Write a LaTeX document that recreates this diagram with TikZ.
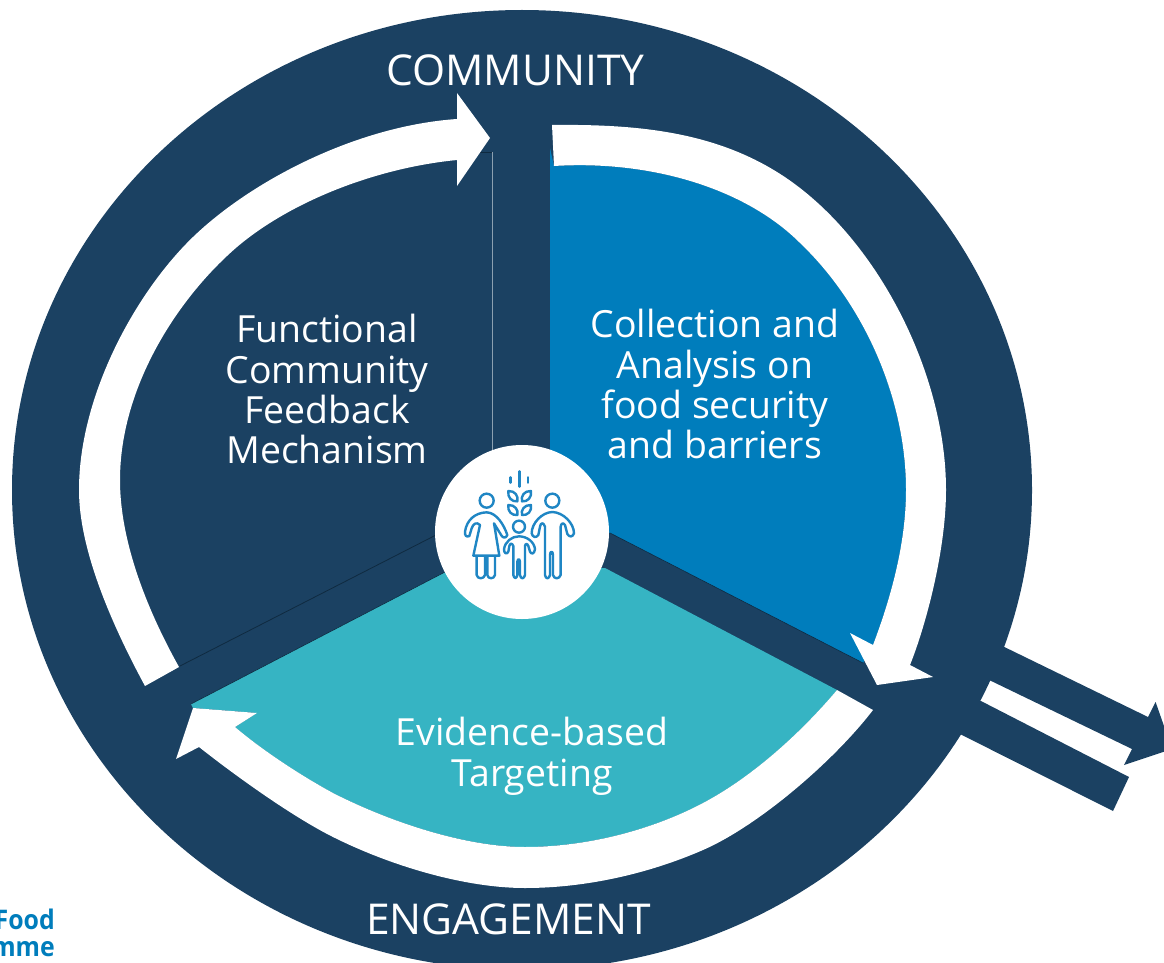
\documentclass[tikz,border=0pt]{standalone}
\usepackage{fontspec}
\setmainfont{Open Sans}
\definecolor{navy}{HTML}{1B4162}
\definecolor{wfpblue}{HTML}{007DBC}
\definecolor{wfpteal}{HTML}{36B4C3}
\definecolor{iconblue}{HTML}{1F86C4}
\definecolor{edgedark}{HTML}{0F2A40}
\definecolor{edgegrey}{HTML}{8CA0B0}
\tikzset{
  inlabel/.style={text=white,anchor=base,font=\fontsize{37.4}{40}\selectfont,inner sep=0pt},
  ringlabel/.style={text=white,anchor=base,font=\fontsize{42.5}{48}\selectfont,inner sep=0pt},
  logotext/.style={text=wfpblue,anchor=base east,font=\fontsize{27}{30}\selectfont\bfseries,inner sep=0pt},
  iconline/.style={draw=iconblue,line width=2.4pt,line join=round,line cap=round,fill=none},
  arrowfill/.style={fill=white,draw=none},
  bandfill/.style={fill=navy,draw=none}
}
\begin{document}
\begin{tikzpicture}[x=1pt,y=-1pt]
\useasboundingbox (0,0) rectangle (1164,963);
\begin{scope}
\clip (0,0) rectangle (1164,963);
% outgoing double band
\fill[bandfill] (990,640) -- (1148,717) -- (1155.6,702) -- (1172,749) -- (1124,765) -- (1132,749) -- (985,678) -- cycle;
\fill[bandfill] (950,729) -- (979,700) -- (1129,777) -- (1113,811) -- (950,729) -- cycle;
% main ring disc
\fill[navy] (522,490) ellipse [x radius=510,y radius=480];
\end{scope}
% sectors
\fill[wfpblue] (550,148) -- (550,460) -- (590,520) -- (610,533) -- (863,663) -- (873,645)
  .. controls (890,600) and (906,545) .. (906,490)
  .. controls (906,400) and (865,305) .. (800,243)
  .. controls (745,188) and (650,160) .. (554,166) -- cycle;
\fill[wfpteal] (191,704) -- (445,572) -- (605,568) -- (837,690)
  .. controls (805,728) and (756,775) .. (703,803)
  .. controls (650,831) and (585,847) .. (525,847)
  .. controls (465,847) and (390,822) .. (333,793)
  .. controls (300,775) and (262,750) .. (235,727) -- (257,713) -- (193,708) -- cycle;
% thin sector edges
\draw[edgedark,line width=0.8pt] (180,666) -- (436,535);
\draw[edgegrey,line width=0.8pt] (492,152) -- (492,452);
\draw[edgedark,line width=0.8pt] (470,152) -- (492,152);
\draw[edgedark,line width=0.6pt] (191,704) -- (445,572);
\draw[edgedark,line width=0.6pt] (610,533) -- (863,663);
% three white arrows
\fill[arrowfill] (145,686)
  .. controls (112,625) and (79,550) .. (79,490)
  .. controls (79,395) and (136,292) .. (193,237)
  .. controls (250,182) and (355,126) .. (457,119)
  -- (457,93) -- (490,138) -- (457,186) -- (457,160)
  .. controls (375,168) and (290,202) .. (237,247)
  .. controls (180,296) and (120,385) .. (120,480)
  .. controls (120,545) and (150,615) .. (179,667) -- cycle;
\fill[arrowfill] (552,125)
  .. controls (642,124) and (728,132) .. (800,188)
  .. controls (885,254) and (946,380) .. (946,490)
  .. controls (946,550) and (926,625) .. (910,665)
  -- (933,677) -- (877,685) -- (850,633) -- (873,645)
  .. controls (890,600) and (906,545) .. (906,490)
  .. controls (906,400) and (865,305) .. (800,243)
  .. controls (745,188) and (650,160) .. (554,166) -- cycle;
\fill[arrowfill] (873,710)
  .. controls (833,762) and (758,826) .. (703,850)
  .. controls (648,874) and (585,888) .. (525,888)
  .. controls (465,888) and (391,866) .. (333,837)
  .. controls (293,817) and (237,777) .. (199,747)
  -- (176,759) -- (193,708) -- (257,713) -- (235,727)
  .. controls (262,750) and (300,775) .. (333,793)
  .. controls (390,822) and (465,847) .. (525,847)
  .. controls (585,847) and (650,831) .. (703,803)
  .. controls (756,775) and (805,728) .. (837,690) -- cycle;
% hub
\node[circle,fill=white,draw=none,minimum size=174pt,inner sep=0pt] (hub) at (522,532) {};
% icon, in coordinates of a 3x crop
\begin{scope}[shift={(430,460)},scale=1/3]
  \draw[iconline] (170,122) circle [radius=21];
  \draw[iconline] (367,122) circle [radius=21];
  \draw[iconline] (267,200) circle [radius=18];
  % woman
  \draw[iconline] (130,287) -- (150,195) .. controls (140,185) and (130,190) .. (125,205) -- (118,228) .. controls (110,232) and (104,228) .. (105,215) .. controls (110,180) and (135,158) .. (170,157) .. controls (200,158) and (222,195) .. (232,225) .. controls (228,236) and (218,234) .. (214,226) -- (192,190) -- (208,287) -- cycle;
  \draw[iconline] (140,290) -- (140,345) .. controls (142,358) and (162,358) .. (165,345) -- (165,290);
  \draw[iconline] (172,290) -- (172,345) .. controls (174,358) and (192,358) .. (195,345) -- (195,290);
  % man
  \draw[iconline] (345,345) -- (345,200) .. controls (340,185) and (332,188) .. (330,200) -- (325,225) .. controls (318,235) and (308,232) .. (305,220) .. controls (305,190) and (335,157) .. (367,156) .. controls (400,157) and (432,190) .. (432,220) .. controls (428,232) and (418,232) .. (412,222) -- (405,195) .. controls (400,187) and (393,190) .. (392,200) -- (392,345) .. controls (388,358) and (372,358) .. (369,345) -- (369,285) .. controls (369,272) and (360,272) .. (360,285) -- (360,345) .. controls (357,358) and (347,358) .. (345,345) -- cycle;
  % child
  \draw[iconline] (250,345) -- (250,258) .. controls (246,248) and (240,250) .. (238,258) -- (235,275) .. controls (230,285) and (222,280) .. (222,268) .. controls (225,245) and (245,229) .. (267,229) .. controls (290,229) and (313,245) .. (315,268) .. controls (313,282) and (304,284) .. (300,275) -- (295,258) .. controls (292,250) and (286,250) .. (285,258) -- (285,345) .. controls (282,358) and (272,358) .. (270,345) -- (270,305) .. controls (268,295) and (264,295) .. (262,305) -- (262,345) .. controls (260,358) and (252,356) .. (250,345) -- cycle;
  % wheat
  \draw[iconline] (268,34) -- (268,80);
  \draw[iconline] (241,52) -- (241,68);
  \draw[iconline] (294,52) -- (294,68);
  \draw[iconline] (235,93) .. controls (255,92) and (266,108) .. (262,124) .. controls (245,126) and (232,112) .. (235,93) -- cycle;
  \draw[iconline] (303,93) .. controls (283,92) and (272,108) .. (276,124) .. controls (293,126) and (306,112) .. (303,93) -- cycle;
  \draw[iconline] (235,135) .. controls (255,134) and (266,150) .. (262,165) .. controls (245,167) and (232,154) .. (235,135) -- cycle;
  \draw[iconline] (303,135) .. controls (283,134) and (272,150) .. (276,165) .. controls (293,167) and (306,154) .. (303,135) -- cycle;
\end{scope}
% labels
\node[ringlabel] (community) at (515.5,86) {COMMUNITY};
\node[ringlabel] (engagement) at (508.5,934) {ENGAGEMENT};
\node[inlabel] (l1) at (327,342) {Functional};
\node[inlabel] (l2) at (327,383) {Community};
\node[inlabel] (l3) at (327,423) {Feedback};
\node[inlabel] (l4) at (327,463) {Mechanism};
\node[inlabel] (r1) at (715,337) {Collection and};
\node[inlabel] (r2) at (715,378) {Analysis on};
\node[inlabel] (r3) at (715,418) {food security};
\node[inlabel] (r4) at (715,458) {and barriers};
\node[inlabel] (b1) at (532,745) {Evidence-based};
\node[inlabel] (b2) at (532,786) {Targeting};
\begin{scope}
\clip (0,0) rectangle (1164,963);
\node[logotext] (food) at (55,929.3) {\scalebox{0.92}[1]{Food}};
\node[logotext] (mme) at (55,956.7) {\scalebox{0.92}[1]{mme}};
\end{scope}
\end{tikzpicture}
\end{document}
